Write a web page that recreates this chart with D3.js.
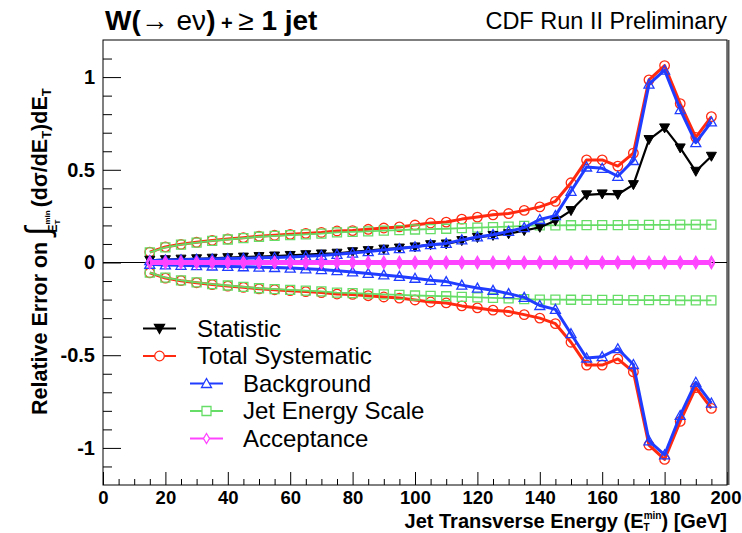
<!DOCTYPE html>
<html>
<head>
<meta charset="utf-8">
<script src="https://cdn.jsdelivr.net/npm/d3@7"></script>
<style>
body { margin: 0; background: #fff; }
text { font-family: "Liberation Sans", Arial, Helvetica, sans-serif; }
</style>
</head>
<body>
<script>
// jet ET threshold (GeV)
var energy = [15, 20, 25, 30, 35, 40, 45, 50, 55, 60, 65, 70, 75, 80, 85, 90, 95, 100, 105, 110,
    115, 120, 125, 130, 135, 140, 145, 150, 155, 160, 165, 170, 175, 180, 185, 190, 195];

// relative errors
var statistic = [0.012, 0.015, 0.018, 0.02, 0.023, 0.026, 0.029, 0.032, 0.035, 0.038, 0.042, 0.046, 0.05,
    0.058, 0.064, 0.072, 0.078, 0.084, 0.096, 0.1, 0.118, 0.135, 0.146, 0.155, 0.172, 0.19, 0.225, 0.28,
    0.365, 0.37, 0.367, 0.42, 0.663, 0.726, 0.618, 0.492, 0.573];
var totalSyst = [0.056, 0.084, 0.098, 0.109, 0.119, 0.127, 0.134, 0.142, 0.147, 0.152, 0.157, 0.162, 0.17,
    0.172, 0.179, 0.186, 0.192, 0.202, 0.213, 0.218, 0.234, 0.245, 0.257, 0.264, 0.281, 0.3, 0.33, 0.43,
    0.553, 0.553, 0.52, 0.59, 0.985, 1.062, 0.857, 0.675, 0.787];
var background = [0.01, 0.013, 0.015, 0.017, 0.019, 0.021, 0.023, 0.025, 0.027, 0.03, 0.034, 0.038, 0.044,
    0.051, 0.059, 0.067, 0.075, 0.085, 0.096, 0.103, 0.122, 0.138, 0.15, 0.168, 0.188, 0.232, 0.253, 0.384,
    0.515, 0.508, 0.465, 0.55, 0.962, 1.037, 0.825, 0.646, 0.758];
var jetEnergyScale = [0.055, 0.082, 0.096, 0.107, 0.117, 0.124, 0.131, 0.139, 0.144, 0.148, 0.152, 0.156, 0.162,
    0.165, 0.168, 0.172, 0.175, 0.178, 0.18, 0.182, 0.185, 0.188, 0.191, 0.194, 0.197, 0.2, 0.2, 0.201,
    0.202, 0.202, 0.202, 0.203, 0.203, 0.203, 0.204, 0.204, 0.204];
var acceptance = [0.006, 0.006, 0.006, 0.006, 0.006, 0.006, 0.006, 0.006, 0.006, 0.006, 0.006, 0.006, 0.006,
    0.006, 0.006, 0.006, 0.006, 0.006, 0.006, 0.006, 0.006, 0.006, 0.006, 0.006, 0.006, 0.006, 0.006, 0.006,
    0.006, 0.006, 0.006, 0.006, 0.006, 0.006, 0.006, 0.006, 0.006];

var xTicks = [0, 20, 40, 60, 80, 100, 120, 140, 160, 180, 200];
var yTicks = [-1, -0.5, 0, 0.5, 1];
var legendNames = ["Statistic", "Total Systematic", "Background", "Jet Energy Scale", "Acceptance"];

var width = 742, height = 533;
var svg = d3.select("body").append("svg").attr("width", width).attr("height", height);

var x = d3.scaleLinear().domain([0, 200]).range([103, 727]);
var y = d3.scaleLinear().domain([-1.2, 1.2]).range([485, 40]);

// marker shapes (ROOT style)
var markers = {
    tridown: "M-5,-4H5L0,5Z",
    circle: d3.symbol(d3.symbolCircle, 72)(),
    triup: "M0,-5L5,4H-5Z",
    square: "M-4.5,-4.5H4.5V4.5H-4.5Z",
    diamond: "M0,-5L3,0L0,5L-3,0Z"
};

// axes
var minorX = [];
for (var v = 5; v < 200; v += 5) if (v % 20) minorX.push(v);
var minorY = [];
for (var k = -11; k <= 11; k++) if (k % 5) minorY.push(k / 10);

var gx = svg.append("g").attr("transform", "translate(0," + y(-1.2) + ")");
gx.call(d3.axisBottom(x).tickValues(xTicks).tickSizeInner(-13).tickSizeOuter(0).tickPadding(6));
gx.append("g").call(d3.axisBottom(x).tickValues(minorX).tickSize(-6).tickFormat(""));

var gy = svg.append("g").attr("transform", "translate(" + x(0) + ",0)");
gy.call(d3.axisLeft(y).tickValues(yTicks).tickSizeInner(-18).tickSizeOuter(0).tickPadding(8)
    .tickFormat(function (d) { return String(d); }));
gy.append("g").call(d3.axisLeft(y).tickValues(minorY).tickSize(-9).tickFormat(""));

svg.selectAll(".domain").remove();
svg.selectAll(".tick line").attr("stroke", "#000");
svg.selectAll(".tick text").attr("font-family", "Liberation Sans, Arial, sans-serif")
    .attr("font-weight", "bold").attr("font-size", 20).attr("fill", "#000");
gx.selectAll(".tick text").attr("font-size", 18.5);
// last label sits right at the window edge
gx.selectAll(".tick text").filter(function (d) { return d === 200; }).attr("dx", -1.5);

// frame
svg.append("rect")
    .attr("x", x(0)).attr("y", y(1.2))
    .attr("width", x(200) - x(0)).attr("height", y(-1.2) - y(1.2))
    .attr("fill", "none").attr("stroke", "#000").attr("stroke-width", 1);
svg.append("line")
    .attr("x1", x(200) + 1.5).attr("x2", x(200) + 1.5)
    .attr("y1", y(1.2)).attr("y2", y(-1.2))
    .attr("stroke", "#555").attr("stroke-width", 2);

// zero line
svg.append("line")
    .attr("x1", x(0)).attr("x2", x(200))
    .attr("y1", y(0)).attr("y2", y(0))
    .attr("stroke", "#000").attr("stroke-width", 1);

function drawSeries(vals, sign, color, lw, marker, filled, mlw) {
    var pts = energy.map(function (e, i) { return [e, sign * vals[i]]; });
    var line = d3.line().x(function (d) { return x(d[0]); }).y(function (d) { return y(d[1]); });
    svg.append("path").datum(pts)
        .attr("d", line)
        .attr("fill", "none")
        .attr("stroke", color)
        .attr("stroke-width", lw)
        .attr("stroke-linejoin", "round");
    svg.append("g").selectAll("path").data(pts).enter().append("path")
        .attr("transform", function (d) { return "translate(" + x(d[0]) + "," + y(d[1]) + ")"; })
        .attr("d", markers[marker])
        .attr("fill", filled ? color : "none")
        .attr("stroke", color)
        .attr("stroke-width", mlw);
}

var red = "#ff2a10", blue = "#1f3cff", green = "#66dd66", magenta = "#ff44ff";

drawSeries(totalSyst, 1, red, 3, "circle", false, 1.3);
drawSeries(totalSyst, -1, red, 3, "circle", false, 1.3);
drawSeries(jetEnergyScale, 1, green, 1.8, "square", false, 1.3);
drawSeries(jetEnergyScale, -1, green, 1.8, "square", false, 1.3);
drawSeries(statistic, 1, "#000", 2.2, "tridown", true, 1);
drawSeries(background, 1, blue, 3, "triup", false, 1.3);
drawSeries(background, -1, blue, 3, "triup", false, 1.3);
drawSeries(acceptance, 1, magenta, 3, "diamond", false, 1.3);
drawSeries(acceptance, -1, magenta, 3, "diamond", false, 1.3);

// legend
var legendRows = [
    { name: legendNames[0], color: "#000", marker: "tridown", filled: true, lx: 143, tx: 197 },
    { name: legendNames[1], color: red, marker: "circle", filled: false, lx: 143, tx: 197 },
    { name: legendNames[2], color: blue, marker: "triup", filled: false, lx: 190, tx: 243 },
    { name: legendNames[3], color: green, marker: "square", filled: false, lx: 190, tx: 243 },
    { name: legendNames[4], color: magenta, marker: "diamond", filled: false, lx: 190, tx: 243 }
];
var leg = svg.append("g").selectAll("g").data(legendRows).enter().append("g")
    .attr("transform", function (d, i) { return "translate(0," + (328.5 + i * 27.5) + ")"; });
leg.append("line")
    .attr("x1", function (d) { return d.lx; }).attr("x2", function (d) { return d.lx + 33; })
    .attr("stroke", function (d) { return d.color; }).attr("stroke-width", 2);
leg.append("path")
    .attr("transform", function (d) { return "translate(" + (d.lx + 16.5) + ",0)"; })
    .attr("d", function (d) { return markers[d.marker]; })
    .attr("fill", function (d) { return d.filled ? d.color : "#fff"; })
    .attr("stroke", function (d) { return d.color; })
    .attr("stroke-width", 1.3);
leg.append("text")
    .attr("x", function (d) { return d.tx; })
    .attr("y", 8)
    .attr("font-size", 24)
    .text(function (d) { return d.name; });

// titles
var title = svg.append("text").attr("x", 105).attr("y", 30).attr("font-size", 28).attr("font-weight", "bold");
title.append("tspan").text("W(");
title.append("tspan").attr("font-weight", "normal").text("\u2192 e\u03bd");
title.append("tspan").text(")");
title.append("tspan").attr("font-size", 20).text(" + ");
title.append("tspan").attr("font-weight", "normal").text("\u2265");
title.append("tspan").text(" 1 jet");

svg.append("text").attr("x", 727).attr("y", 29).attr("text-anchor", "end")
    .attr("font-size", 23.5).text("CDF Run II Preliminary");

// x title
var xt = svg.append("text").attr("x", 727).attr("y", 528).attr("text-anchor", "end")
    .attr("font-size", 20).attr("font-weight", "bold");
xt.append("tspan").text("Jet Transverse Energy (E");
xt.append("tspan").attr("font-size", 10).attr("dy", 3).text("T");
xt.append("tspan").attr("font-size", 10).attr("dy", -12).attr("dx", -6).text("min");
xt.append("tspan").attr("dy", 9).text(") [GeV]");

// y title
var yt = svg.append("text").attr("transform", "translate(47,415) rotate(-90)")
    .attr("font-size", 21.5).attr("font-weight", "bold");
yt.append("tspan").text("Relative Error on ");
yt.append("tspan").attr("font-size", 34).attr("font-weight", "normal").attr("dy", 2).text("\u222b");
yt.append("tspan").attr("font-size", 12).attr("dy", 8).attr("dx", -6).text("E");
yt.append("tspan").attr("font-size", 8).attr("dy", 3).text("T");
yt.append("tspan").attr("font-size", 8).attr("dy", -10).attr("dx", -5).text("min");
yt.append("tspan").attr("dy", -3).attr("dx", 3).text("(d\u03c3/dE");
yt.append("tspan").attr("font-size", 13).attr("dy", 4).text("T");
yt.append("tspan").attr("dy", -4).text(")dE");
yt.append("tspan").attr("font-size", 13).attr("dy", 4).text("T");
</script>
</body>
</html>
